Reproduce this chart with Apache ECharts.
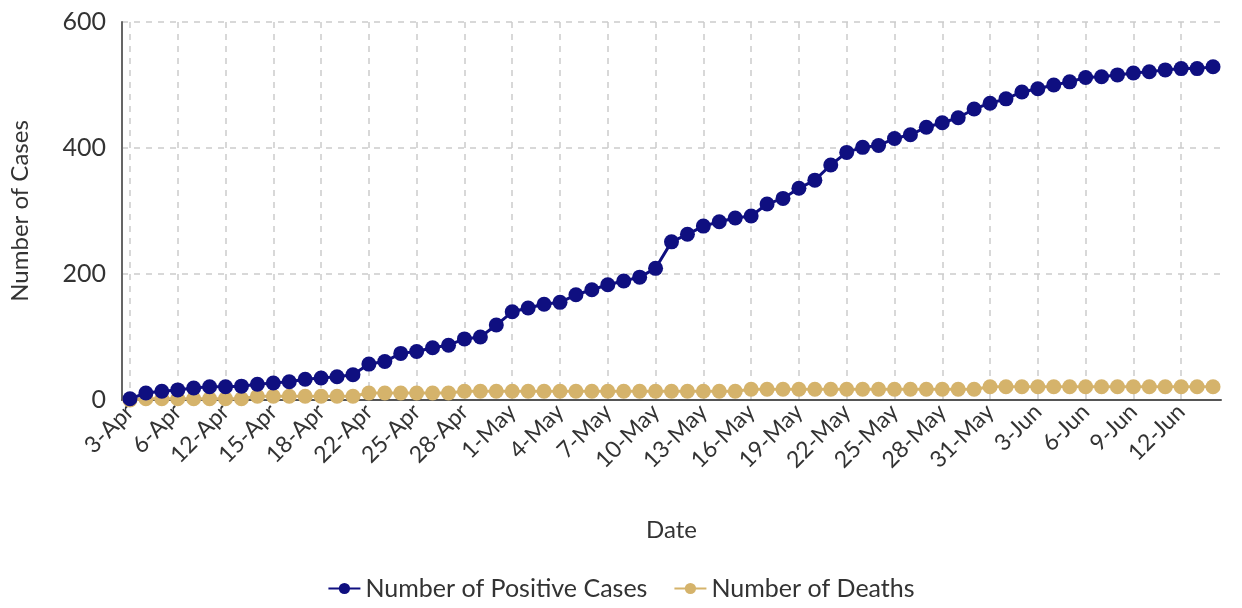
<!DOCTYPE html>
<html>
<head>
<meta charset="utf-8">
<script src="https://cdn.jsdelivr.net/npm/echarts@6/dist/echarts.min.js"></script>
<style>
  html, body { margin: 0; padding: 0; background: #fff; }
  #chart { width: 1242px; height: 608px; }
</style>
</head>
<body>
<div id="chart"></div>
<script>
// Reporting dates (a few early days have no report)
const dates = [
  '3-Apr','4-Apr','5-Apr','6-Apr','8-Apr','10-Apr','12-Apr','13-Apr','14-Apr','15-Apr',
  '16-Apr','17-Apr','18-Apr','19-Apr','20-Apr','22-Apr','23-Apr','24-Apr','25-Apr','26-Apr',
  '27-Apr','28-Apr','29-Apr','30-Apr','1-May','2-May','3-May','4-May','5-May','6-May',
  '7-May','8-May','9-May','10-May','11-May','12-May','13-May','14-May','15-May','16-May',
  '17-May','18-May','19-May','20-May','21-May','22-May','23-May','24-May','25-May','26-May',
  '27-May','28-May','29-May','30-May','31-May','1-Jun','2-Jun','3-Jun','4-Jun','5-Jun',
  '6-Jun','7-Jun','8-Jun','9-Jun','10-Jun','11-Jun','12-Jun','13-Jun','14-Jun'
];

// Cumulative positive cases
const positiveCases = [
  2, 11, 14, 16, 19, 21, 21, 22, 25, 27,
  29, 33, 35, 37, 40, 57, 61, 74, 77, 83,
  87, 97, 100, 119, 140, 146, 152, 155, 167, 175,
  183, 189, 195, 209, 251, 263, 276, 283, 289, 292,
  311, 320, 336, 349, 373, 393, 401, 404, 415, 421,
  433, 440, 448, 462, 471, 478, 489, 494, 500, 505,
  512, 513, 516, 519, 521, 524, 526, 526, 529
];

// Cumulative deaths
const deaths = [
  0, 2, 2, 2, 2, 2, 2, 2, 6, 6,
  6, 6, 6, 6, 6, 11, 11, 11, 11, 11,
  11, 14, 14, 14, 14, 14, 14, 14, 14, 14,
  14, 14, 14, 14, 14, 14, 14, 14, 14, 17,
  17, 17, 17, 17, 17, 17, 17, 17, 17, 17,
  17, 17, 17, 17, 21, 21, 21, 21, 21, 21,
  21, 21, 21, 21, 21, 21, 21, 21, 21
];

const yTicks = [0, 200, 400, 600];

const FONT = 'Lato, "Noto Sans", sans-serif';
const TEXT = '#333333';
const NAVY = '#0f0f80';
const GOLD = '#d5b36b';

const chart = echarts.init(document.getElementById('chart'));
chart.setOption({
  animation: false,
  textStyle: { fontFamily: FONT },
  grid: { left: 122, right: 21, top: 22, bottom: 208 },
  legend: {
    bottom: 2,
    left: 'center',
    itemGap: 26,
    itemWidth: 32,
    itemHeight: 14,
    textStyle: { fontFamily: FONT, fontSize: 25, color: TEXT },
    data: ['Number of Positive Cases', 'Number of Deaths']
  },
  xAxis: {
    type: 'category',
    data: dates,
    boundaryGap: true,
    name: 'Date',
    nameLocation: 'middle',
    nameGap: 118,
    nameTextStyle: { fontFamily: FONT, fontSize: 24, color: TEXT },
    axisLine: { lineStyle: { color: '#555555', width: 2 } },
    axisTick: { show: false },
    axisLabel: {
      interval: 2,
      rotate: 45,
      margin: 8,
      fontFamily: FONT,
      fontSize: 23,
      color: TEXT
    },
    splitLine: {
      show: true,
      interval: 2,
      alignWithLabel: true,
      lineStyle: { color: '#cccccc', type: [6, 6], width: 1.5 }
    }
  },
  yAxis: {
    type: 'value',
    min: yTicks[0],
    max: yTicks[yTicks.length - 1],
    interval: yTicks[1] - yTicks[0],
    name: 'Number of Cases',
    nameLocation: 'middle',
    nameGap: 90,
    nameTextStyle: { fontFamily: FONT, fontSize: 24, color: TEXT },
    axisLine: { show: true, lineStyle: { color: '#666666', width: 2 } },
    axisTick: { show: false },
    axisLabel: { fontFamily: FONT, fontSize: 25, color: TEXT, margin: 16 },
    splitLine: { show: true, lineStyle: { color: '#cccccc', type: [6, 6], width: 1.5 } }
  },
  series: [
    {
      name: 'Number of Deaths',
      type: 'line',
      data: deaths,
      symbol: 'circle',
      symbolSize: 15,
      showAllSymbol: true,
      color: GOLD,
      lineStyle: { color: GOLD, width: 3 },
      itemStyle: { color: GOLD },
      z: 2
    },
    {
      name: 'Number of Positive Cases',
      type: 'line',
      data: positiveCases,
      symbol: 'circle',
      symbolSize: 15,
      showAllSymbol: true,
      color: NAVY,
      lineStyle: { color: NAVY, width: 3 },
      itemStyle: { color: NAVY },
      z: 3
    }
  ]
});
</script>
</body>
</html>
